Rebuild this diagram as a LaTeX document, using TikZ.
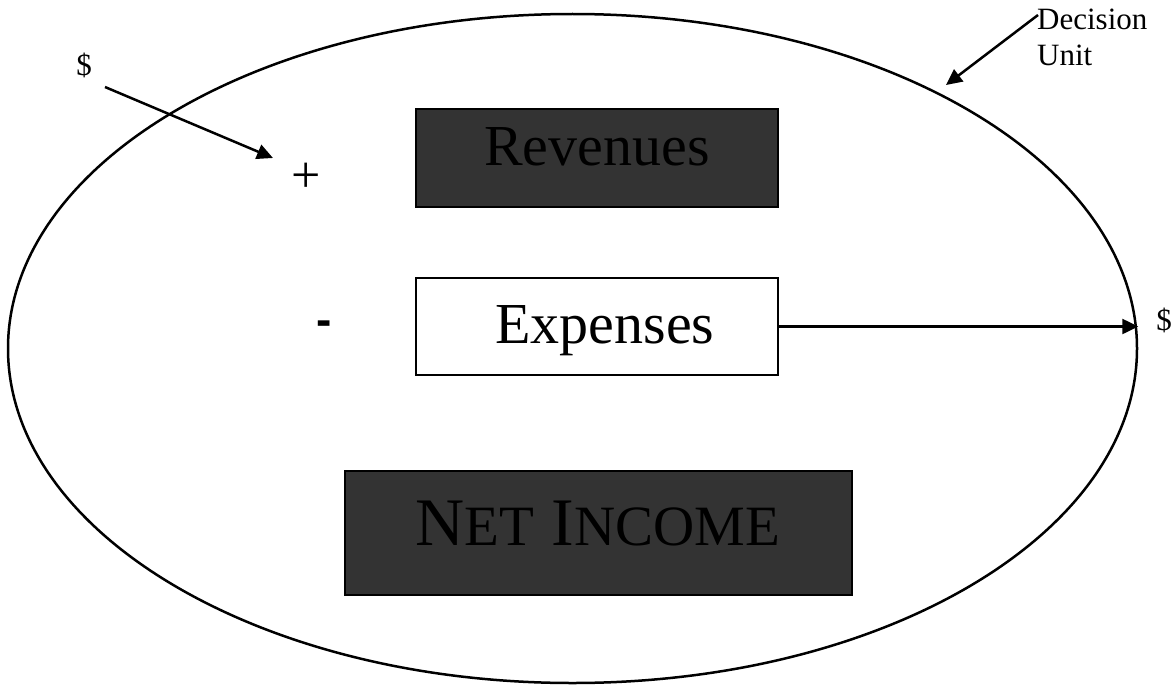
\documentclass[tikz,border=0pt]{standalone}
\usepackage{fontspec}
\setmainfont{Liberation Serif}
\newfontfamily\sansbold{Liberation Sans}
\usetikzlibrary{arrows.meta,shapes.geometric}
\definecolor{boxdark}{HTML}{333333}
\begin{document}
\begin{tikzpicture}[x=1pt,y=-1pt,
  boxstyle/.style={rectangle, draw=black, line width=2pt, inner sep=0pt, font=\fontsize{58}{62}\selectfont},
  darkbox/.style={boxstyle, fill=boxdark},
  lightbox/.style={boxstyle, fill=white},
  conn/.style={line width=2.5pt, -{Triangle[length=16pt,width=15pt]}},
  smalltext/.style={inner sep=0pt, font=\fontsize{31}{36}\selectfont},
]
\useasboundingbox[fill=white] (0,0) rectangle (1175,685);
\node[ellipse, draw, line width=2.5pt, minimum width=1129pt, minimum height=669pt, inner sep=0pt] (unit) at (572.5,348.5) {};

\node[darkbox, minimum width=362pt, minimum height=98pt, text height=20pt, text depth=6pt] (rev) at (597,158) {Revenues};
\node[lightbox, minimum width=362pt, minimum height=97pt, text height=40pt, text depth=7pt] (exp) at (597,326.5) {\hspace*{16pt}Expenses};
\node[darkbox, minimum width=507pt, minimum height=124pt, text height=30pt, text depth=5pt, font=\fontsize{68}{72}\selectfont] (net) at (598,533) {N{\fontsize{57}{60}\selectfont ET} I{\fontsize{57}{60}\selectfont NCOME}};

\node[inner sep=0pt, font=\fontsize{52}{56}\selectfont] (plus) at (306,178) {+};
\node[inner sep=0pt, anchor=base, font=\sansbold\bfseries\fontsize{46}{50}\selectfont] (minus) at (324,335) {-};

\node[smalltext, anchor=base] (din) at (84,75) {\$};
\node[smalltext, anchor=base] (dout) at (1164,330) {\$};
\node[smalltext, anchor=north west, align=left] (du) at (1037,9) {Decision\\Unit};

\coordinate (inStart) at (105,87);
\coordinate (inTip) at (273,158);
\coordinate (duStart) at (1038,15);
\coordinate (duTip) at (946,85);

\draw[conn] (inStart) -- (inTip);
\draw[conn] (duStart) -- (duTip);
\draw[conn] (exp.east) -- (exp.east -| unit.east);
\end{tikzpicture}
\end{document}
